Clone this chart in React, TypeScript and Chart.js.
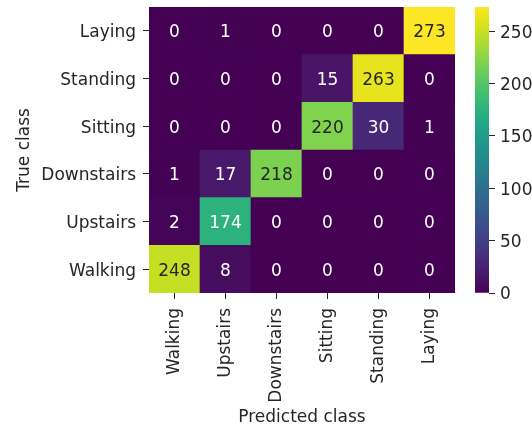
import React, { useEffect, useRef } from "react";
import { Chart, registerables } from "chart.js";

Chart.register(...registerables);

// Class names: predicted classes along x, true classes along y (bottom to top)
const predictedLabels = ["Walking", "Upstairs", "Downstairs", "Sitting", "Standing", "Laying"];
const trueLabels = ["Walking", "Upstairs", "Downstairs", "Sitting", "Standing", "Laying"];

// Confusion counts, one array per true class, columns follow predictedLabels
const walkingRow = [248, 8, 0, 0, 0, 0];
const upstairsRow = [2, 174, 0, 0, 0, 0];
const downstairsRow = [1, 17, 218, 0, 0, 0];
const sittingRow = [0, 0, 0, 220, 30, 1];
const standingRow = [0, 0, 0, 15, 263, 0];
const layingRow = [0, 1, 0, 0, 0, 273];

const colorbarTicks = [0, 50, 100, 150, 200, 250];

const rows = [walkingRow, upstairsRow, downstairsRow, sittingRow, standingRow, layingRow];
const vmin = Math.min(...rows.flat());
const vmax = Math.max(...rows.flat());

// viridis colormap stops
const VIRIDIS = [
  "#440154", "#48186a", "#472d7b", "#424086", "#3b528b", "#33638d",
  "#2c728e", "#26828e", "#21918c", "#1fa088", "#28ae80", "#3fbc73",
  "#5ec962", "#84d44b", "#addc30", "#d8e219", "#fde725",
];

function hexToRgb(h: string): number[] {
  const n = parseInt(h.slice(1), 16);
  return [(n >> 16) & 255, (n >> 8) & 255, n & 255];
}

function viridisRgb(t: number): number[] {
  const x = Math.max(0, Math.min(1, t)) * (VIRIDIS.length - 1);
  const i = Math.min(VIRIDIS.length - 2, Math.floor(x));
  const f = x - i;
  const a = hexToRgb(VIRIDIS[i]);
  const b = hexToRgb(VIRIDIS[i + 1]);
  return a.map((v, k) => Math.round(v + (b[k] - v) * f));
}

function viridis(t: number): string {
  const [r, g, b] = viridisRgb(t);
  return `rgb(${r},${g},${b})`;
}

function luminance(rgb: number[]): number {
  const c = rgb.map((v) => {
    const s = v / 255;
    return s <= 0.03928 ? s / 12.92 : Math.pow((s + 0.055) / 1.055, 2.4);
  });
  return 0.2126 * c[0] + 0.7152 * c[1] + 0.0722 * c[2];
}

const norm = (v: number) => (v - vmin) / (vmax - vmin);

const FONT = { family: "'DejaVu Sans', sans-serif", size: 17 };
const TEXT = "#262626";
const W = 532;
const H = 425;
const MAIN_W = 470;
const AREA_TOP = 7;
const AREA_BOTTOM = 293;
// digits sit slightly below the geometric middle of their cell / tick
const TEXT_DROP = 2;

// Axis labels may overhang the plot edges, so no extra edge padding is reserved
const noEdgePadding = (s: any) => {
  s.paddingTop = 0;
  s.paddingBottom = 0;
  s.paddingLeft = 0;
  s.paddingRight = 0;
};

// Writes each cell's count at its centre
const cellLabels = {
  id: "cellLabels",
  afterDatasetsDraw(chart: any) {
    const ctx = chart.ctx;
    ctx.save();
    ctx.font = `${FONT.size}px ${FONT.family}`;
    ctx.textAlign = "center";
    ctx.textBaseline = "middle";
    chart.data.datasets.forEach((ds: any, r: number) => {
      const meta = chart.getDatasetMeta(r);
      meta.data.forEach((bar: any, c: number) => {
        const v = rows[r][c];
        const lum = luminance(viridisRgb(norm(v)));
        ctx.fillStyle = lum > 0.408 ? TEXT : "#ffffff";
        ctx.fillText(String(v), bar.x, (bar.y + bar.base) / 2 + TEXT_DROP);
      });
    });
    ctx.restore();
  },
};

export default function App() {
  const mainRef = useRef<HTMLCanvasElement>(null);
  const barRef = useRef<HTMLCanvasElement>(null);

  useEffect(() => {
    const main = new Chart(mainRef.current!, {
      type: "bar",
      data: {
        labels: predictedLabels,
        datasets: rows.map((row, r) => ({
          label: trueLabels[r],
          data: row.map(() => [r, r + 1]),
          backgroundColor: row.map((v) => viridis(norm(v))),
          borderWidth: 0,
          barPercentage: 1,
          categoryPercentage: 1,
          grouped: false,
        })) as any,
      },
      options: {
        responsive: false,
        animation: false,
        devicePixelRatio: 1,
        layout: { padding: { left: 0, top: AREA_TOP, right: MAIN_W - 455, bottom: 0 } },
        plugins: { legend: { display: false }, tooltip: { enabled: false } },
        scales: {
          x: {
            type: "category",
            offset: true,
            grid: { offset: false, drawOnChartArea: false, tickLength: 6, color: TEXT },
            border: { display: false },
            ticks: { maxRotation: 90, minRotation: 90, autoSkip: false, padding: 9, font: FONT, color: TEXT },
            title: { display: true, text: "Predicted class", font: FONT, color: TEXT, padding: { top: 0, bottom: -3 } },
            afterFit: (s: any) => {
              s.height = H - AREA_BOTTOM;
              noEdgePadding(s);
            },
          },
          y: {
            type: "linear",
            min: 0,
            max: trueLabels.length,
            afterBuildTicks: (s: any) => {
              s.ticks = trueLabels.map((_, i) => ({ value: i + 0.5 }));
            },
            grid: { drawOnChartArea: false, tickLength: 6, color: TEXT },
            border: { display: false },
            ticks: {
              padding: 7,
              labelOffset: TEXT_DROP,
              font: FONT,
              color: TEXT,
              callback: (v: any) => trueLabels[Math.floor(Number(v))],
            },
            title: { display: true, text: "True class", font: FONT, color: TEXT, padding: { top: 14, bottom: 0 } },
            afterFit: (s: any) => {
              s.width = 149;
              noEdgePadding(s);
            },
          },
        },
      } as any,
      plugins: [cellLabels],
    });

    const bar = new Chart(barRef.current!, {
      type: "bar",
      data: {
        labels: [""],
        datasets: [
          {
            data: [[vmin, vmax]] as any,
            borderWidth: 0,
            barPercentage: 1,
            categoryPercentage: 1,
            backgroundColor: (ctx: any) => {
              const area = ctx.chart.chartArea;
              if (!area) return VIRIDIS[0];
              const g = ctx.chart.ctx.createLinearGradient(0, area.bottom, 0, area.top);
              VIRIDIS.forEach((c, i) => g.addColorStop(i / (VIRIDIS.length - 1), c));
              return g;
            },
          },
        ],
      },
      options: {
        responsive: false,
        animation: false,
        devicePixelRatio: 1,
        layout: { padding: { left: 5, top: AREA_TOP, right: 0, bottom: H - AREA_BOTTOM } },
        plugins: { legend: { display: false }, tooltip: { enabled: false } },
        scales: {
          x: { display: false },
          y: {
            position: "right",
            min: vmin,
            max: vmax,
            afterBuildTicks: (s: any) => {
              s.ticks = colorbarTicks.map((v) => ({ value: v }));
            },
            grid: { drawOnChartArea: false, tickLength: 6, color: TEXT },
            border: { display: false },
            ticks: { padding: 5, labelOffset: TEXT_DROP, font: FONT, color: TEXT },
            afterFit: (s: any) => {
              s.width = W - MAIN_W - 5 - 14;
              noEdgePadding(s);
            },
          },
        },
      } as any,
    });

    return () => {
      main.destroy();
      bar.destroy();
    };
  }, []);

  return (
    <div style={{ position: "absolute", left: 0, top: 0, width: W, height: H, background: "#fff", overflow: "hidden" }}>
      <canvas
        ref={mainRef}
        width={MAIN_W}
        height={H}
        style={{ position: "absolute", left: 0, top: 0, width: MAIN_W, height: H }}
      />
      <canvas
        ref={barRef}
        width={W - MAIN_W}
        height={H}
        style={{ position: "absolute", left: MAIN_W, top: 0, width: W - MAIN_W, height: H }}
      />
    </div>
  );
}
